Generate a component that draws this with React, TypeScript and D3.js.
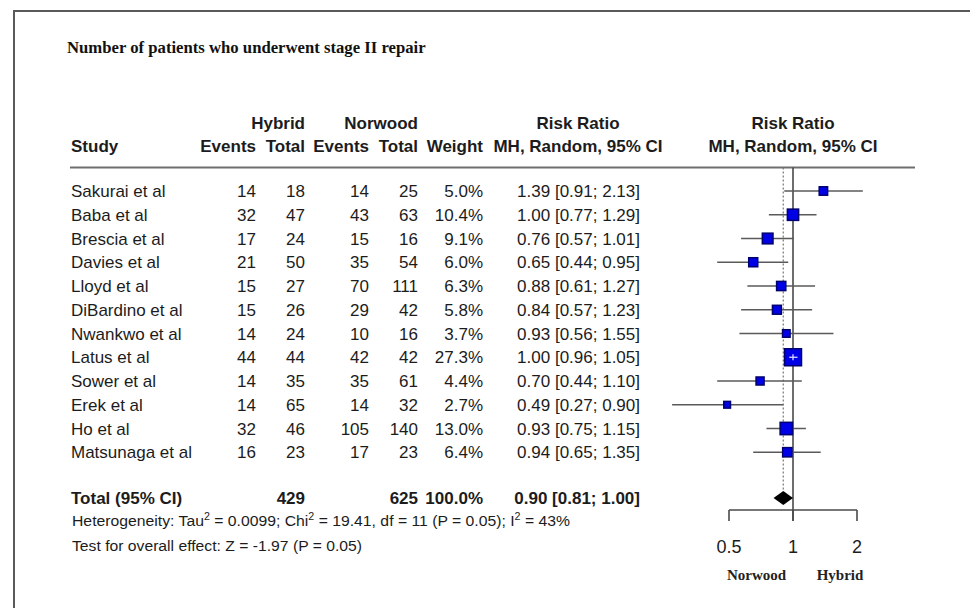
import React from "react";
import * as d3 from "d3";

// Study-level data
const studies = [
  "Sakurai et al", "Baba et al", "Brescia et al", "Davies et al", "Lloyd et al",
  "DiBardino et al", "Nwankwo et al", "Latus et al", "Sower et al", "Erek et al",
  "Ho et al", "Matsunaga et al",
];
const hybridEvents = [14, 32, 17, 21, 15, 15, 14, 44, 14, 14, 32, 16];
const hybridTotal = [18, 47, 24, 50, 27, 26, 24, 44, 35, 65, 46, 23];
const norwoodEvents = [14, 43, 15, 35, 70, 29, 10, 42, 35, 14, 105, 17];
const norwoodTotal = [25, 63, 16, 54, 111, 42, 16, 42, 61, 32, 140, 23];
const weights = [5.0, 10.4, 9.1, 6.0, 6.3, 5.8, 3.7, 27.3, 4.4, 2.7, 13.0, 6.4];
const riskRatio = [1.39, 1.0, 0.76, 0.65, 0.88, 0.84, 0.93, 1.0, 0.7, 0.49, 0.93, 0.94];
const ciLower = [0.91, 0.77, 0.57, 0.44, 0.61, 0.57, 0.56, 0.96, 0.44, 0.27, 0.75, 0.65];
const ciUpper = [2.13, 1.29, 1.01, 0.95, 1.27, 1.23, 1.55, 1.05, 1.1, 0.9, 1.15, 1.35];

// Pooled estimate
const pooledTotals = [429, 625];
const pooled = { rr: 0.9, lo: 0.81, hi: 1.0, weight: 100.0 };
const axisTicks = [0.5, 1, 2];
const axisLabels = ["0.5", "1", "2"];

const SANS = "'Liberation Sans', Arial, sans-serif";
const SERIF = "'Liberation Serif', 'Times New Roman', serif";
const TXT = "#1c1c1c";

const fmt2 = d3.format(".2f");
const fmt1 = d3.format(".1f");

export default function App() {
  const x = d3.scaleLog().domain([0.5, 2]).range([729, 857]);
  const rowY = d3.scaleLinear().domain([0, 1]).range([191, 214.75]);
  const boxSize = d3.scaleSqrt().domain([0, 27.3]).range([0, 15]);

  const totalY = 498;
  const axisY = 510;
  const headerLineY = 167.5;

  const cols = { hE: 256, hT: 305, nE: 369, nT: 418, w: 483, rr: 640 };

  const body = { fontFamily: SANS, fontSize: 17, fill: TXT };
  const bold = { ...body, fontWeight: 700 };

  return (
    <svg
      width={970}
      height={608}
      style={{ position: "absolute", left: 0, top: 0, background: "#fff" }}
    >
      {/* frame */}
      <rect x={14} y={11} width={1000} height={700} fill="none" stroke="#5a5a5a" strokeWidth={2} />

      {/* title */}
      <text x={67} y={53} fontFamily={SERIF} fontWeight={700} fontSize={16.7} fill="#111">
        Number of patients who underwent stage II repair
      </text>

      {/* headers */}
      <g {...bold}>
        <text x={cols.hT} y={129} textAnchor="end">Hybrid</text>
        <text x={cols.nT} y={129} textAnchor="end">Norwood</text>
        <text x={578} y={129} textAnchor="middle">Risk Ratio</text>
        <text x={793} y={129} textAnchor="middle">Risk Ratio</text>
        <text x={71} y={152}>Study</text>
        <text x={cols.hE} y={152} textAnchor="end">Events</text>
        <text x={cols.hT} y={152} textAnchor="end">Total</text>
        <text x={cols.nE} y={152} textAnchor="end">Events</text>
        <text x={cols.nT} y={152} textAnchor="end">Total</text>
        <text x={cols.w} y={152} textAnchor="end">Weight</text>
        <text x={578} y={152} textAnchor="middle">MH, Random, 95% CI</text>
        <text x={793} y={152} textAnchor="middle">MH, Random, 95% CI</text>
      </g>
      <line x1={70} x2={915} y1={headerLineY} y2={headerLineY} stroke="#6e6e6e" strokeWidth={2} />

      {/* study rows */}
      <g {...body}>
        {studies.map((s, i) => {
          const y = rowY(i) + 6;
          return (
            <g key={s}>
              <text x={71} y={y}>{s}</text>
              <text x={cols.hE} y={y} textAnchor="end">{hybridEvents[i]}</text>
              <text x={cols.hT} y={y} textAnchor="end">{hybridTotal[i]}</text>
              <text x={cols.nE} y={y} textAnchor="end">{norwoodEvents[i]}</text>
              <text x={cols.nT} y={y} textAnchor="end">{norwoodTotal[i]}</text>
              <text x={cols.w} y={y} textAnchor="end">{fmt1(weights[i])}%</text>
              <text x={cols.rr} y={y} textAnchor="end">
                {`${fmt2(riskRatio[i])} [${fmt2(ciLower[i])}; ${fmt2(ciUpper[i])}]`}
              </text>
            </g>
          );
        })}
      </g>

      {/* total row */}
      <g {...bold}>
        <text x={71} y={totalY + 6}>Total (95% CI)</text>
        <text x={cols.hT} y={totalY + 6} textAnchor="end">{pooledTotals[0]}</text>
        <text x={cols.nT} y={totalY + 6} textAnchor="end">{pooledTotals[1]}</text>
        <text x={cols.w} y={totalY + 6} textAnchor="end">{fmt1(pooled.weight)}%</text>
        <text x={cols.rr} y={totalY + 6} textAnchor="end">
          {`${fmt2(pooled.rr)} [${fmt2(pooled.lo)}; ${fmt2(pooled.hi)}]`}
        </text>
      </g>

      {/* heterogeneity statistics */}
      <text x={72} y={526} fontFamily={SANS} fontSize={15.5} fill={TXT} textLength={498} lengthAdjust="spacingAndGlyphs">
        Heterogeneity: Tau<tspan dy={-6} fontSize={10.5}>2</tspan>
        <tspan dy={6}> = 0.0099; Chi</tspan>
        <tspan dy={-6} fontSize={10.5}>2</tspan>
        <tspan dy={6}> = 19.41, df = 11 (P = 0.05); I</tspan>
        <tspan dy={-6} fontSize={10.5}>2</tspan>
        <tspan dy={6}> = 43%</tspan>
      </text>
      <text x={72} y={551} fontFamily={SANS} fontSize={15.5} fill={TXT} textLength={290} lengthAdjust="spacingAndGlyphs">
        Test for overall effect: Z = -1.97 (P = 0.05)
      </text>

      {/* pooled-estimate reference (dotted) */}
      <line
        x1={x(pooled.rr)} x2={x(pooled.rr)} y1={headerLineY} y2={totalY - 7}
        stroke="#777" strokeWidth={1.2} strokeDasharray="2,2"
      />
      {/* line of no effect */}
      <line x1={x(1)} x2={x(1)} y1={headerLineY} y2={axisY + 11} stroke="#4a4a4a" strokeWidth={1.6} />

      {/* confidence intervals and boxes */}
      {studies.map((s, i) => {
        const cy = rowY(i);
        const sz = boxSize(weights[i]) + 2;
        const inside = x(ciUpper[i]) - x(ciLower[i]) < sz;
        return (
          <g key={`m-${s}`}>
            <line x1={x(ciLower[i])} x2={x(ciUpper[i])} y1={cy} y2={cy} stroke="#5a5a5a" strokeWidth={1.6} />
            <rect
              x={x(riskRatio[i]) - sz / 2} y={cy - sz / 2} width={sz} height={sz}
              fill="#0000e6" stroke="#00006e" strokeWidth={1.5}
            />
            {inside && (
              <g stroke="#e8e8ff" strokeWidth={1.2}>
                <line x1={x(ciLower[i])} x2={x(ciUpper[i])} y1={cy} y2={cy} />
                <line x1={x(riskRatio[i])} x2={x(riskRatio[i])} y1={cy - 3} y2={cy + 3} />
              </g>
            )}
          </g>
        );
      })}

      {/* pooled diamond */}
      <polygon
        points={[
          [x(pooled.lo), totalY],
          [x(pooled.rr), totalY - 7],
          [x(pooled.hi), totalY],
          [x(pooled.rr), totalY + 7],
        ].map((p) => p.join(",")).join(" ")}
        fill="#000"
      />

      {/* axis */}
      <line x1={x(0.5)} x2={x(2)} y1={axisY} y2={axisY} stroke="#4a4a4a" strokeWidth={1.6} />
      {axisTicks.map((t, i) => (
        <g key={`t-${t}`}>
          <line x1={x(t)} x2={x(t)} y1={axisY} y2={axisY + 11} stroke="#4a4a4a" strokeWidth={1.6} />
          <text x={x(t)} y={553} textAnchor="middle" fontFamily={SANS} fontSize={18} fill={TXT}>
            {axisLabels[i]}
          </text>
        </g>
      ))}
      <text x={756.5} y={580} textAnchor="middle" fontFamily={SERIF} fontWeight={700} fontSize={15} fill="#222">
        Norwood
      </text>
      <text x={840} y={580} textAnchor="middle" fontFamily={SERIF} fontWeight={700} fontSize={15} fill="#222">
        Hybrid
      </text>
    </svg>
  );
}
